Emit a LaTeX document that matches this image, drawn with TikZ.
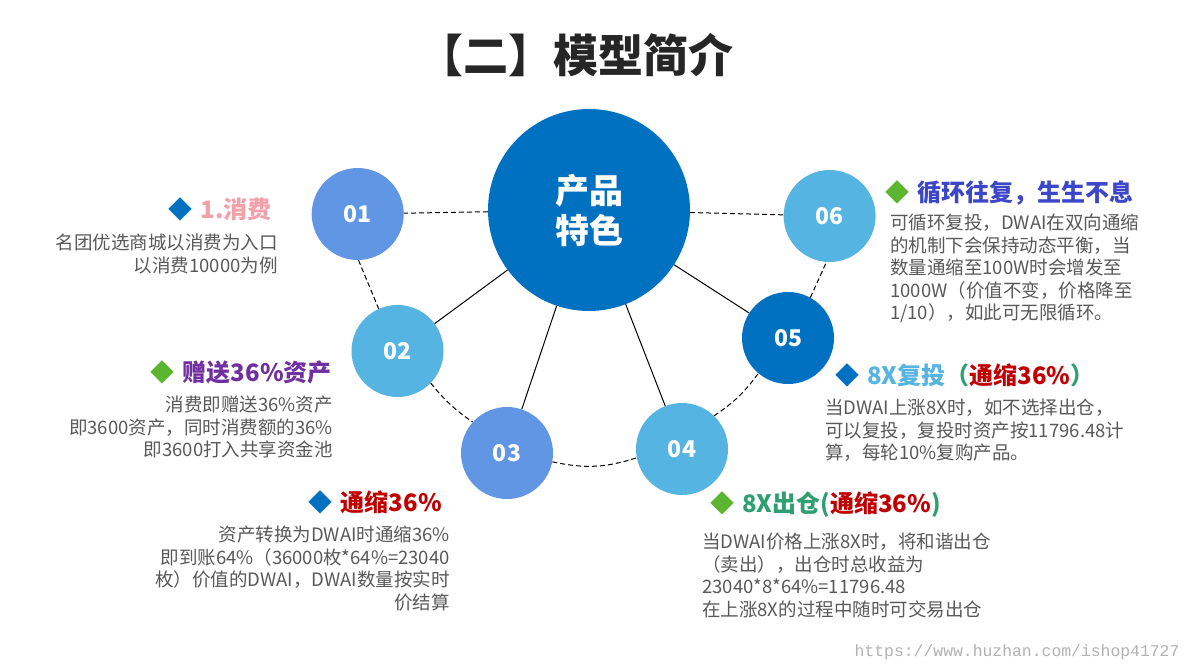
\documentclass[tikz,border=0pt]{standalone}
\usepackage{fontspec}
\setmainfont{Noto Sans CJK SC}
\newfontfamily\urlfont{Liberation Mono}
\usetikzlibrary{positioning, calc}

\definecolor{deepblue}{HTML}{0070C0}
\definecolor{midblue}{HTML}{6096E4}
\definecolor{skyblue}{HTML}{56B4E3}
\definecolor{bodygray}{HTML}{595959}
\definecolor{pinkhead}{HTML}{F4A0A9}
\definecolor{purplehead}{HTML}{7030A0}
\definecolor{redhead}{HTML}{C00000}
\definecolor{greenhead}{HTML}{2E9F70}
\definecolor{indigohead}{HTML}{3C46C8}
\definecolor{greendia}{HTML}{5CB531}

\newcommand{\diam}[1]{{\color{#1}◆}\hspace{8pt}}

\begin{document}
\begin{tikzpicture}[
    x = 1pt, y = -1pt,
    bubble/.style = {circle, minimum size = 92pt, inner sep = 0pt, text = white,
        font = \fontsize{23}{23}\selectfont\bfseries},
    head/.style = {inner sep = 0pt, font = \fontsize{24}{28}\selectfont\bfseries},
    body/.style = {inner sep = 0pt, text = bodygray, font = \fontsize{18.5}{22.5}\selectfont},
    dashlink/.style = {black, line width = 1pt, dash pattern = on 5pt off 3pt},
    spoke/.style = {black, line width = 1pt}
]

% page
\fill[white] (0,0) rectangle (1200,671);
\useasboundingbox (0,0) rectangle (1200,671);

% 1. title
\node[font = \fontsize{45}{45}\selectfont\bfseries, text = black!85] (title) at (576,55) {【二】模型简介};

% 2. centre and the six bubbles
\node[circle, fill = deepblue, minimum size = 202pt, inner sep = 0pt, text = white, align = center,
      font = \fontsize{34}{40}\selectfont\bfseries] (core) at (589,210) {产品\\特色};

\foreach \name/\px/\py/\col in {01/357.7/214/midblue, 02/397.5/351/skyblue, 03/507/453/midblue,
                                04/682/449/skyblue, 05/788/338/deepblue, 06/829.6/216/skyblue} {
    \node[bubble, fill = \col] (c\name) at (\px,\py) {\name};
}

% 3. connectors
\draw[dashlink] (core) -- (c01);
\draw[dashlink] (core) -- (c06);
\draw[dashlink] (c01.-89) -- (c02.114);
\draw[dashlink] (c02.-44) to[bend right = 8] (c03.138);
\draw[dashlink] (c03.-11) to[bend right = 15] (c04.-169);
\draw[dashlink] (c04.46) to[bend right = 10] (c05.230);
\draw[dashlink] (c05.61) -- (c06.266);
\foreach \k in {02, 03, 04, 05} {
    \draw[spoke] (core) -- (c\k);
}

% 4. text blocks, left side
\node[head, anchor = east] (h1) at (272,209) {\diam{deepblue}\textcolor{pinkhead}{1.消费}};
\node[body, anchor = north east, align = right] (t1) at (278,234)
    {名团优选商城以消费为入口\\以消费10000为例};

\node[head, anchor = east] (h2) at (332,372) {\diam{greendia}\textcolor{purplehead}{赠送36\%资产}};
\node[body, anchor = north east, align = right] (t2) at (333,396)
    {消费即赠送36\%资产\\即3600资产，同时消费额的36\%\\即3600打入共享资金池};

\node[head, anchor = east] (h3) at (442,502) {\diam{deepblue}\textcolor{redhead}{通缩36\%}};
\node[body, anchor = north east, align = right] (t3) at (450,526)
    {资产转换为DWAI时通缩36\%\\即到账64\%（36000枚*64\%=23040\\枚）价值的DWAI，DWAI数量按实时\\价结算};

% 5. text blocks, right side
\node[head, anchor = west] (h4) at (710,505)
    {\diam{greendia}\textcolor{greenhead}{8X出仓(}\textcolor{redhead}{通缩36\%}\textcolor{greenhead}{)}};
\node[body, anchor = north west, align = left] (t4) at (702,533)
    {当DWAI价格上涨8X时，将和谐出仓\\（卖出），出仓时总收益为\\23040*8*64\%=11796.48\\在上涨8X的过程中随时可交易出仓};

\node[head, anchor = west] (h5) at (835,375)
    {\diam{deepblue}\textcolor{skyblue}{8X复投}\textcolor{greenhead}{（}\textcolor{redhead}{通缩36\%}\textcolor{greenhead}{）}};
\node[body, anchor = north west, align = left] (t5) at (825,399)
    {当DWAI上涨8X时，如不选择出仓，\\可以复投，复投时资产按11796.48计\\算，每轮10\%复购产品。};

\node[head, anchor = west] (h6) at (885,193) {\diam{greendia}\textcolor{indigohead}{循环往复，生生不息}};
\node[body, anchor = north west, align = left] (t6) at (890,214)
    {可循环复投，DWAI在双向通缩\\的机制下会保持动态平衡，当\\数量通缩至100W时会增发至\\1000W（价值不变，价格降至\\1/10），如此可无限循环。};

% 6. watermark
\node[font = \urlfont\fontsize{16.4}{16}\selectfont, text = black!30, anchor = east] (url) at (1183,652)
    {https://www.huzhan.com/ishop41727};

\end{tikzpicture}
\end{document}
